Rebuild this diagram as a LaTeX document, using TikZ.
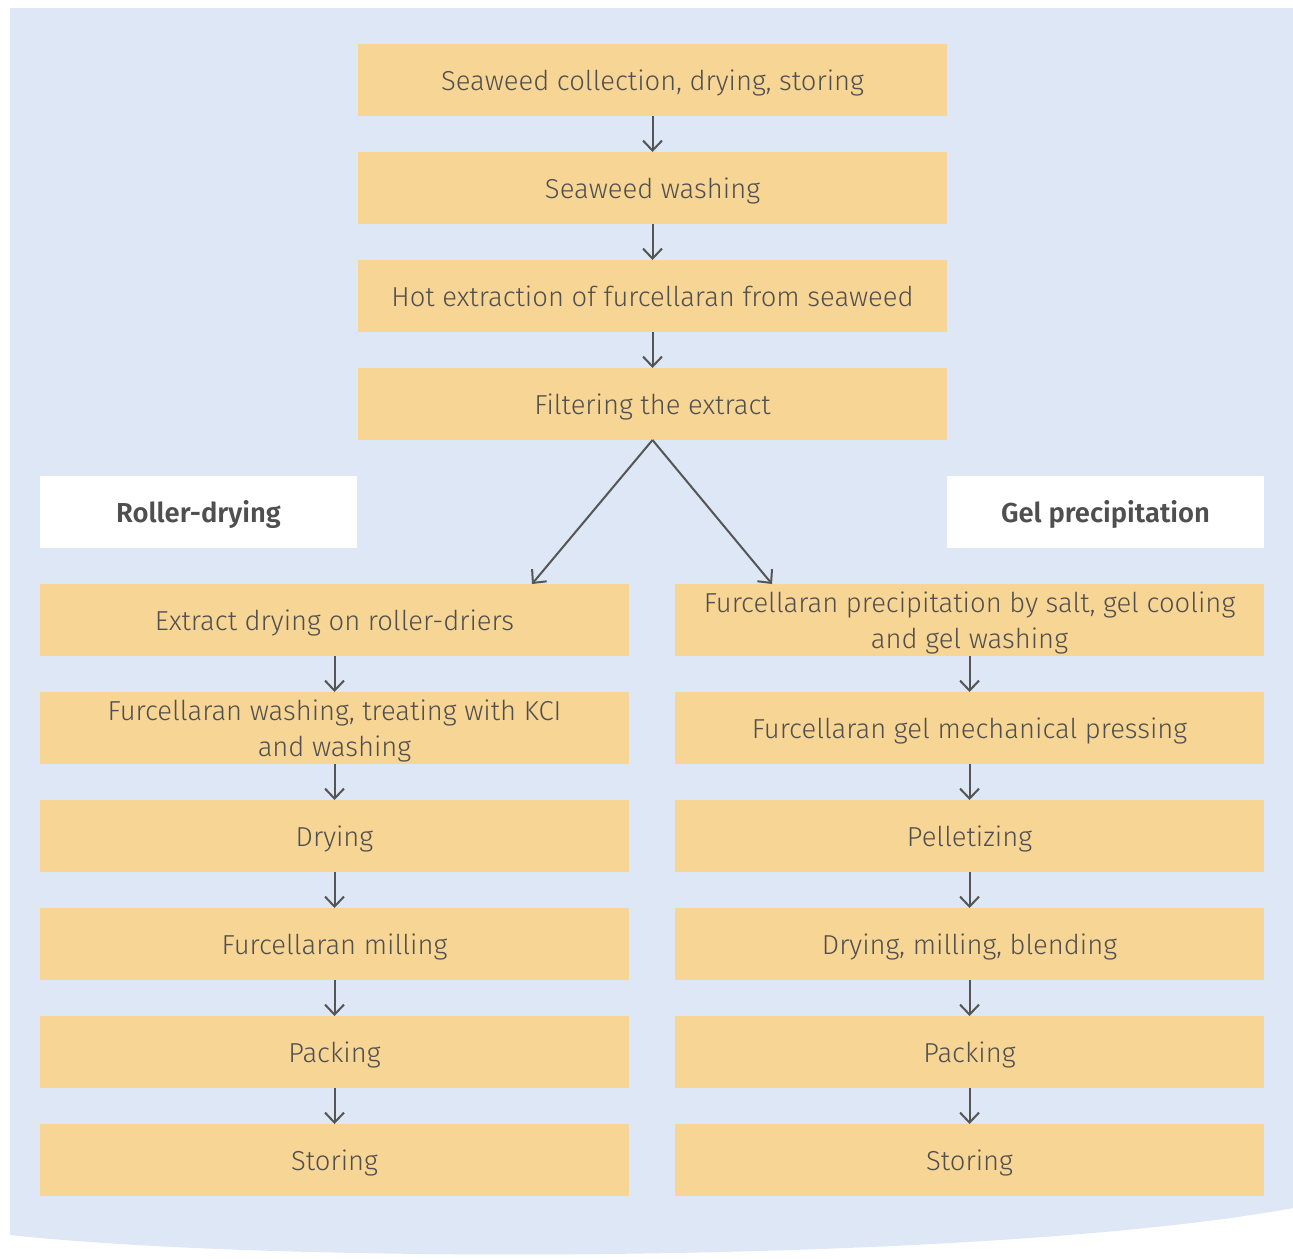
\documentclass[tikz,border=0pt]{standalone}
\usepackage{fontspec}
\setmainfont{Fira Sans}[UprightFont={* Light},BoldFont={* SemiBold}]
\usetikzlibrary{arrows.meta,positioning}
\definecolor{bgblue}{HTML}{DEE7F5}
\definecolor{boxyellow}{HTML}{F7D594}
\definecolor{txtgray}{HTML}{4F4F4F}
\definecolor{arrgray}{HTML}{555555}
\tikzset{
  stepbox/.style={fill=boxyellow, minimum width=294.5pt, minimum height=36pt, inner sep=0pt, outer sep=0pt,
    align=center, text=txtgray, text height=12pt, text depth=2pt, font=\fontsize{13.7}{18}\selectfont},
  twoline/.style={text height=30pt},
  headbox/.style={fill=white, minimum width=158.5pt, minimum height=36pt, inner sep=0pt, outer sep=0pt,
    text=txtgray, text height=12pt, text depth=2pt, font=\fontsize{13.7}{18}\selectfont\bfseries},
  flow/.style={draw=arrgray, line width=1pt, -{Straight Barb[length=5pt,width=9.5pt]}}
}
\begin{document}
\begin{tikzpicture}[x=0.5pt, y=-0.5pt, node distance=18pt]
        \useasboundingbox (0,0) rectangle (1293,1258);
        % background sheet
        \fill[bgblue] (10,8) -- (1293,8) -- (1293,1208)
          .. controls (1000,1262) and (300,1266) .. (10,1235) -- cycle;

        % common steps
        \node[stepbox] (s1) at (652.5,80) {Seaweed collection, drying, storing};
        \node[stepbox, below=of s1] (s2) {Seaweed washing};
        \node[stepbox, below=of s2] (s3) {Hot extraction of furcellaran from seaweed};
        \node[stepbox, below=of s3] (s4) {Filtering the extract};

        % headings
        \node[headbox] (hl) at (198.5,512) {Roller-drying};
        \node[headbox] (hr) at (1105.5,512) {Gel precipitation};

        % roller-drying branch
        \node[stepbox] (l1) at (334.5,620) {Extract drying on roller-driers};
        \node[stepbox, twoline, below=of l1] (l2) {Furcellaran washing, treating with KCI\\and washing};
        \node[stepbox, below=of l2] (l3) {Drying};
        \node[stepbox, below=of l3] (l4) {Furcellaran milling};
        \node[stepbox, below=of l4] (l5) {Packing};
        \node[stepbox, below=of l5] (l6) {Storing};

        % gel precipitation branch
        \node[stepbox, twoline] (r1) at (969.5,620) {Furcellaran precipitation by salt, gel cooling\\and gel washing};
        \node[stepbox, below=of r1] (r2) {Furcellaran gel mechanical pressing};
        \node[stepbox, below=of r2] (r3) {Pelletizing};
        \node[stepbox, below=of r3] (r4) {Drying, milling, blending};
        \node[stepbox, below=of r4] (r5) {Packing};
        \node[stepbox, below=of r5] (r6) {Storing};

        % arrows
        \foreach \a/\b in {s1/s2,s2/s3,s3/s4,l1/l2,l2/l3,l3/l4,l4/l5,l5/l6,r1/r2,r2/r3,r3/r4,r4/r5,r5/r6}
          \draw[flow] (\a.south) -- (\b.north);
        \draw[flow] (s4.south) -- ([xshift=98.75pt]l1.north);
        \draw[flow] (s4.south) -- ([xshift=-98.75pt]r1.north);
      \end{tikzpicture}
\end{document}
